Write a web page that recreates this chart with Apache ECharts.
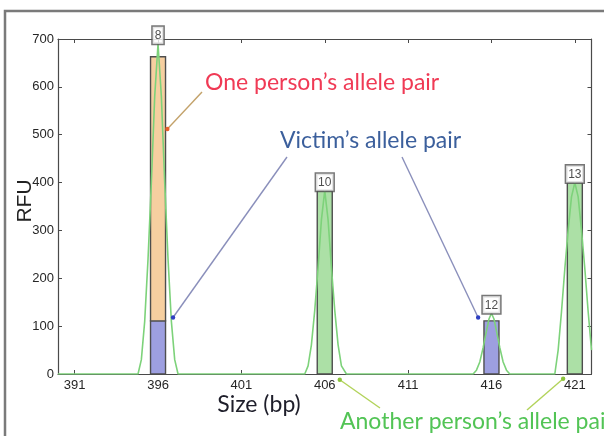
<!DOCTYPE html>
<html>
<head>
<meta charset="utf-8">
<script src="https://cdn.jsdelivr.net/npm/echarts@6/dist/echarts.min.js"></script>
<style>
  html, body { margin: 0; padding: 0; background: #fff; }
  #chart { width: 604px; height: 436px; }
</style>
</head>
<body>
<div id="chart"></div>
<script>
// Allele calls: size (bp), allele name, height of the peak the call box sits on
const alleleSize = [396, 406, 416, 421];
const alleleName = ['8', '10', '12', '13'];
const alleleTopRFU = [690, 383, 127, 400];

// Victim's alleles (blue)
const victimSize = [396, 416];
const victimRFU = [111, 111];

// One person's allele, stacked on the victim's share at 396 (orange)
const personASize = [396];
const personARFU = [663];

// Another person's alleles (green)
const personBSize = [406, 421];
const personBRFU = [383, 400];

// Electropherogram trace
const traceSize = [
  390, 394.8, 395.0, 395.2, 395.4, 395.6, 395.8, 396.0, 396.2, 396.4, 396.6, 396.8, 397.0, 397.2,
  404.8, 405.0, 405.2, 405.4, 405.6, 405.8, 406.0, 406.2, 406.4, 406.6, 406.8, 407.0, 407.3,
  414.9, 415.1, 415.3, 415.5, 415.7, 415.85, 416.0, 416.15, 416.3, 416.5, 416.7, 416.9, 417.1,
  419.8, 420.0, 420.2, 420.4, 420.6, 420.8, 421.0, 421.2, 421.4, 421.6, 421.8, 422.0
];
const traceRFU = [
  0, 0, 30, 110, 240, 400, 580, 690, 580, 400, 240, 110, 30, 0,
  0, 17, 61, 133, 222, 322, 383, 322, 222, 133, 61, 17, 0,
  0, 8, 25, 55, 90, 115, 127, 115, 90, 55, 25, 8, 0,
  0, 50, 130, 220, 300, 370, 400, 370, 300, 220, 130, 50
];

// Axis ticks
const sizeTicks = [391, 396, 401, 406, 411, 416, 421];
const rfuMin = 0, rfuMax = 700, rfuStep = 100;
const sizeMin = 390, sizeMax = 422;

const BAR_HALF = 0.45;   // half bar width, in bp
const AXIS_COLOR = '#4a4a4a';

function barSeries(name, rows, fill) {
  return {
    type: 'custom',
    name: name,
    xAxisIndex: 0, yAxisIndex: 0,
    z: 2,
    data: rows,
    renderItem: function (params, api) {
      const x = api.value(0), y0 = api.value(1), y1 = api.value(2);
      const a = api.coord([x - BAR_HALF, y1]);
      const b = api.coord([x + BAR_HALF, y0]);
      return {
        type: 'rect',
        shape: { x: a[0], y: a[1], width: b[0] - a[0], height: b[1] - a[1] },
        style: { fill: fill, stroke: '#4e4e4e', lineWidth: 1.4 }
      };
    }
  };
}

const victimRows = victimSize.map((s, i) => [s, 0, victimRFU[i]]);
const personARows = personASize.map((s, i) => {
  const base = victimRFU[victimSize.indexOf(s)] || 0;
  return [s, base, personARFU[i]];
});
const personBRows = personBSize.map((s, i) => [s, 0, personBRFU[i]]);

function frameAxis(kind, position, showLabels) {
  const isX = kind === 'x';
  const ax = {
    type: 'value',
    position: position,
    min: isX ? sizeMin : rfuMin,
    max: isX ? sizeMax : rfuMax,
    axisLine: { show: true, onZero: false, lineStyle: { color: AXIS_COLOR, width: 1.2 } },
    axisTick: { show: true, inside: true, length: 4, lineStyle: { color: AXIS_COLOR } },
    axisLabel: {
      show: showLabels,
      color: '#262626',
      fontSize: 13,
      fontFamily: 'Liberation Sans, Arial, sans-serif',
      margin: isX ? 5 : 4
    },
    splitLine: { show: false }
  };
  if (isX) {
    ax.axisTick.customValues = sizeTicks;
    ax.axisLabel.customValues = sizeTicks;
  } else {
    ax.interval = rfuStep;
  }
  return ax;
}

const chart = echarts.init(document.getElementById('chart'), null, { renderer: 'canvas' });

const option = {
  animation: false,
  backgroundColor: '#ffffff',
  grid: { left: 58, top: 39, width: 533.5, height: 335, containLabel: false },
  xAxis: [frameAxis('x', 'bottom', true), frameAxis('x', 'top', false)],
  yAxis: [frameAxis('y', 'left', true), frameAxis('y', 'right', false)],
  series: [
    barSeries('Victim', victimRows, '#9d9fe0'),
    barSeries('One person', personARows, '#f6cfa0'),
    barSeries('Another person', personBRows, '#ace0a6'),
    {
      type: 'line',
      name: 'Trace',
      xAxisIndex: 0, yAxisIndex: 0,
      z: 3,
      symbol: 'none',
      lineStyle: { color: '#7dd27a', width: 1.6 },
      data: traceSize.map((s, i) => [s, traceRFU[i]])
    },
    {
      type: 'scatter',
      name: 'Allele calls',
      xAxisIndex: 0, yAxisIndex: 0,
      z: 5,
      symbolSize: 0,
      data: alleleSize.map((s, i) => [s, alleleTopRFU[i]]),
      label: {
        show: true,
        position: 'top',
        distance: 0,
        formatter: (p) => alleleName[p.dataIndex],
        fontSize: 12,
        fontFamily: 'Liberation Sans, Arial, sans-serif',
        color: '#222',
        backgroundColor: '#ffffff',
        borderColor: '#555',
        borderWidth: 1.5,
        padding: [3, 2, 2, 2]
      }
    }
  ],
  graphic: [
    {
      type: 'rect', silent: true, z: 0,
      shape: { x: 5, y: 11, width: 640, height: 460 },
      style: { fill: 'none', stroke: '#7a7a7a', lineWidth: 2.5 }
    },
    {
      type: 'text', x: 25, y: 201, rotation: Math.PI / 2,
      style: {
        text: 'RFU', fill: '#222', fontSize: 21,
        fontFamily: 'Liberation Sans, Arial, sans-serif',
        align: 'center', verticalAlign: 'middle'
      }
    },
    {
      type: 'text', x: 259, y: 405,
      style: {
        text: 'Size (bp)', fill: '#1e1e2a', fontSize: 23,
        fontFamily: 'Lato, sans-serif',
        align: 'center', verticalAlign: 'middle'
      }
    },
    {
      type: 'text', x: 205, y: 83,
      style: {
        text: 'One person\u2019s allele pair', fill: '#f03a55', fontSize: 23,
        fontFamily: 'Lato, sans-serif', align: 'left', verticalAlign: 'middle'
      }
    },
    {
      type: 'text', x: 280, y: 141,
      style: {
        text: 'Victim\u2019s allele pair', fill: '#3b5f9c', fontSize: 23,
        fontFamily: 'Lato, sans-serif', align: 'left', verticalAlign: 'middle'
      }
    },
    {
      type: 'text', x: 340, y: 422,
      style: {
        text: 'Another person\u2019s allele pair', fill: '#52c455', fontSize: 23,
        fontFamily: 'Lato, sans-serif', align: 'left', verticalAlign: 'middle'
      }
    }
  ]
};

chart.setOption(option);

// Pointer lines from each caption to the peak it describes (targets in bp / RFU)
const pointers = [
  { from: [202, 92], to: [396.56, 512], line: '#c3a26a', dot: '#e8602a' },
  { from: [287, 157], to: [396.9, 118], line: '#8a8fbb', dot: '#2e3fc2' },
  { from: [402, 157], to: [415.2, 118], line: '#8a8fbb', dot: '#2e3fc2' },
  { from: [380, 408], to: [406.9, -12], line: '#b2d35a', dot: '#8cc43c' },
  { from: [527, 410], to: [420.3, -10], line: '#b2d35a', dot: '#8cc43c' }
];

const pointerGraphics = [];
pointers.forEach((p) => {
  const t = chart.convertToPixel({ xAxisIndex: 0, yAxisIndex: 0 }, p.to);
  pointerGraphics.push({
    type: 'line', z: 4, silent: true,
    shape: { x1: p.from[0], y1: p.from[1], x2: t[0], y2: t[1] },
    style: { stroke: p.line, lineWidth: 1.4 }
  });
  pointerGraphics.push({
    type: 'circle', z: 4, silent: true,
    shape: { cx: t[0], cy: t[1], r: 2.2 },
    style: { fill: p.dot }
  });
});

chart.setOption({ graphic: option.graphic.concat(pointerGraphics) });
</script>
</body>
</html>
